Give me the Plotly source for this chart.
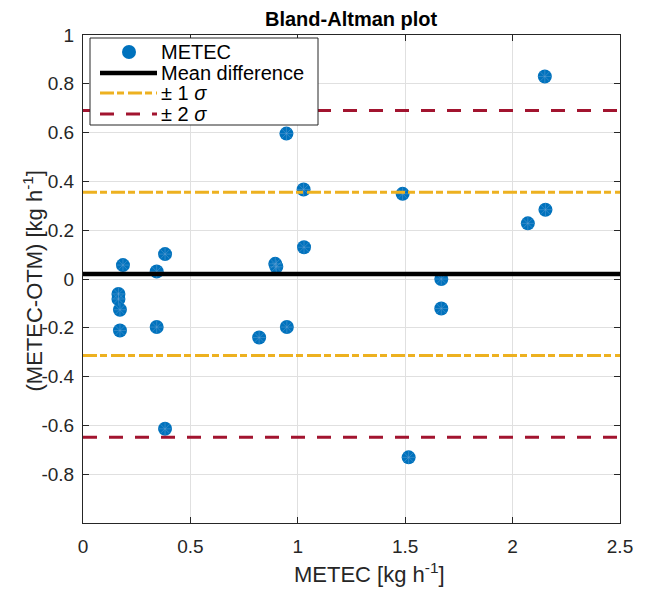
import plotly.graph_objects as go

# ---- data ----
metec_x = [2.150, 0.947, 1.027, 1.488, 2.153, 2.071, 1.029, 0.382, 0.186, 0.343,
           0.895, 0.900, 1.668, 0.165, 0.165, 0.172, 0.172, 0.343, 0.820, 0.949,
           1.668, 0.382, 1.516]
diff_y = [0.830, 0.596, 0.367, 0.349, 0.284, 0.228, 0.130, 0.102, 0.057, 0.031,
          0.062, 0.050, 0.000, -0.061, -0.082, -0.126, -0.211, -0.197, -0.240, -0.197,
          -0.121, -0.614, -0.731]

x_span = [0.0, 2.5]
mean_diff = 0.021
plus_1sd = 0.356
minus_1sd = -0.314
plus_2sd = 0.691
minus_2sd = -0.649

x_ticks = [0, 0.5, 1, 1.5, 2, 2.5]
x_tick_text = ["0", "0.5", "1", "1.5", "2", "2.5"]
y_ticks = [-0.8, -0.6, -0.4, -0.2, 0, 0.2, 0.4, 0.6, 0.8, 1]
y_tick_text = ["-0.8", "-0.6", "-0.4", "-0.2", "0", "0.2", "0.4", "0.6", "0.8", "1"]

legend_labels = ["METEC", "Mean difference", "± 1 <i>σ</i>", "± 2 <i>σ</i>"]

BLUE = "#0072BD"
ORANGE = "#EDB120"
RED = "#A2142F"
FONT = "Liberation Sans, Arial, sans-serif"
DASH1 = "14px,3px,7px,4px"
DASH2 = "14px,12px"

fig = go.Figure()

fig.add_trace(go.Scatter(
    x=metec_x, y=diff_y, mode="markers", name=legend_labels[0], showlegend=False,
    marker=dict(symbol="circle", size=14, color=BLUE, line=dict(width=0)),
))
fig.add_trace(go.Scatter(
    x=metec_x, y=diff_y, mode="markers", showlegend=False, hoverinfo="skip",
    marker=dict(symbol="asterisk-open", size=11, color="rgba(110,165,215,0.7)",
                line=dict(width=0.6, color="rgba(110,165,215,0.7)")),
))
fig.add_trace(go.Scatter(
    x=x_span, y=[mean_diff, mean_diff], mode="lines", name=legend_labels[1],
    showlegend=False, line=dict(color="black", width=4.5),
))
fig.add_trace(go.Scatter(
    x=x_span, y=[plus_1sd, plus_1sd], mode="lines", name=legend_labels[2],
    showlegend=False, line=dict(color=ORANGE, width=3, dash=DASH1),
))
fig.add_trace(go.Scatter(
    x=x_span, y=[minus_1sd, minus_1sd], mode="lines", showlegend=False,
    line=dict(color=ORANGE, width=3, dash=DASH1),
))
fig.add_trace(go.Scatter(
    x=x_span, y=[plus_2sd, plus_2sd], mode="lines", name=legend_labels[3],
    showlegend=False, line=dict(color=RED, width=3, dash=DASH2),
))
fig.add_trace(go.Scatter(
    x=x_span, y=[minus_2sd, minus_2sd], mode="lines", showlegend=False,
    line=dict(color=RED, width=3, dash=DASH2),
))

axis_common = dict(
    showline=True, linecolor="#262626", linewidth=1, mirror="ticks",
    ticks="inside", ticklen=6, tickcolor="#262626", tickwidth=1,
    showgrid=True, gridcolor="#e0e0e0", gridwidth=1, zeroline=False,
    tickfont=dict(family=FONT, size=19, color="#262626"),
)

fig.update_xaxes(range=[0, 2.5], tickvals=x_ticks, ticktext=x_tick_text,
                 ticklabelstandoff=6, **axis_common)
fig.update_yaxes(range=[-1, 1], tickvals=y_ticks, ticktext=y_tick_text,
                 ticklabelstandoff=4, **axis_common)

# ---- legend box (drawn in paper coordinates, MATLAB style) ----
L, B, W, H = 83, 523, 537, 488   # plot-area pixel geometry


def px(xp):
    return (xp - L) / W


def py(yp):
    return (B - yp) / H


row_y = [52, 73, 93, 114]
shapes = [
    dict(type="rect", xref="paper", yref="paper", x0=px(90), x1=px(318),
         y0=py(125), y1=py(38), line=dict(color="#262626", width=1),
         fillcolor="white", layer="above"),
    dict(type="circle", xref="paper", yref="paper", xsizemode="pixel",
         ysizemode="pixel", xanchor=px(129), yanchor=py(row_y[0]),
         x0=-7, x1=7, y0=-7, y1=7, fillcolor=BLUE, line=dict(width=0),
         layer="above"),
    dict(type="line", xref="paper", yref="paper", x0=px(100), x1=px(157),
         y0=py(row_y[1]), y1=py(row_y[1]), line=dict(color="black", width=4.5),
         layer="above"),
    dict(type="line", xref="paper", yref="paper", x0=px(100), x1=px(157),
         y0=py(row_y[2]), y1=py(row_y[2]), line=dict(color=ORANGE, width=3, dash=DASH1),
         layer="above"),
    dict(type="line", xref="paper", yref="paper", x0=px(100), x1=px(157),
         y0=py(row_y[3]), y1=py(row_y[3]), line=dict(color=RED, width=3, dash=DASH2),
         layer="above"),
]

annotations = [
    dict(text="<b>Bland-Altman plot</b>", xref="paper", yref="paper",
         x=0.5, y=1, xanchor="center", yanchor="bottom", yshift=3,
         showarrow=False, font=dict(family=FONT, size=20, color="black")),
    dict(text="METEC [kg h<sup>-1</sup>]", xref="paper", yref="paper",
         x=0.534, y=0, xanchor="center", yanchor="top", yshift=-34,
         showarrow=False, font=dict(family=FONT, size=22, color="#262626")),
    dict(text="(METEC-OTM) [kg h<sup>-1</sup>]", xref="paper", yref="paper",
         x=-0.093, y=0.495, xanchor="center", yanchor="middle", textangle=-90,
         showarrow=False, font=dict(family=FONT, size=22, color="#262626")),
]
for label, ry in zip(legend_labels, row_y):
    annotations.append(dict(
        text=label, xref="paper", yref="paper", x=px(160), y=py(ry),
        xanchor="left", yanchor="middle", showarrow=False, borderpad=0,
        font=dict(family=FONT, size=20, color="black")))

fig.update_layout(
    width=649, height=594,
    margin=dict(l=83, r=29, t=35, b=71),
    paper_bgcolor="white", plot_bgcolor="white",
    font=dict(family=FONT, color="#262626"),
    showlegend=False,
    shapes=shapes,
    annotations=annotations,
)

fig.write_html("out.html")
